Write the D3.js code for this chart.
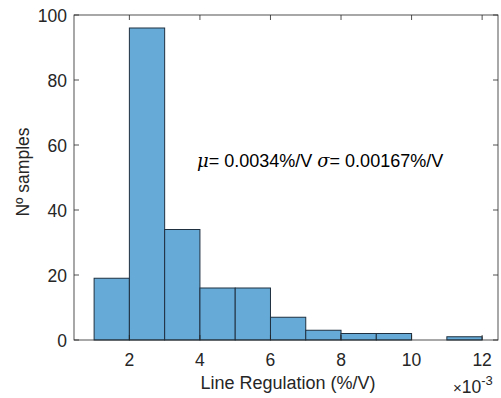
<!DOCTYPE html>
<html>
<head>
<meta charset="utf-8">
<script src="https://cdn.jsdelivr.net/npm/d3@7.9.0/dist/d3.min.js"></script>
<style>
  body { margin: 0; background: #fff; }
  svg { display: block; font-family: "Liberation Sans", Arial, sans-serif; }
</style>
</head>
<body>
<svg id="chart" width="501" height="398"></svg>
<script>
// bin edges in units of 1e-3 %/V
const binStarts = [1, 2, 3, 4, 5, 6, 7, 8, 9, 10, 11];
const binWidth = 1;
const counts = [19, 96, 34, 16, 16, 7, 3, 2, 2, 0, 1];
const xTicks = [2, 4, 6, 8, 10, 12];
const yTicks = [0, 20, 40, 60, 80, 100];

const svg = d3.select('#chart');
const plotLeft = 74, plotRight = 498, plotTop = 15, plotBottom = 340;

const x = d3.scaleLinear().domain([0.43, 12.45]).range([plotLeft, plotRight]);
const y = d3.scaleLinear().domain([0, 100]).range([plotBottom, plotTop]);

const axisColor = '#262626';

// bars
svg.append('g')
  .selectAll('rect')
  .data(binStarts.map((s, i) => ({ s, c: counts[i] })))
  .enter()
  .append('rect')
  .attr('x', d => x(d.s))
  .attr('width', d => x(d.s + binWidth) - x(d.s))
  .attr('y', d => y(d.c))
  .attr('height', d => y(0) - y(d.c))
  .attr('fill', 'rgb(102,170,215)')
  .attr('stroke', '#1f3040')
  .attr('stroke-width', 1);

// box
svg.append('rect')
  .attr('x', plotLeft).attr('y', plotTop)
  .attr('width', plotRight - plotLeft).attr('height', plotBottom - plotTop)
  .attr('fill', 'none').attr('stroke', axisColor).attr('stroke-width', 0.8);

const tickLen = 5;
const g = svg.append('g').attr('stroke', axisColor).attr('stroke-width', 0.8);
xTicks.forEach(t => {
  g.append('line').attr('x1', x(t)).attr('x2', x(t)).attr('y1', plotBottom).attr('y2', plotBottom - tickLen);
  g.append('line').attr('x1', x(t)).attr('x2', x(t)).attr('y1', plotTop).attr('y2', plotTop + tickLen);
});
yTicks.forEach(t => {
  g.append('line').attr('x1', plotLeft).attr('x2', plotLeft + tickLen).attr('y1', y(t)).attr('y2', y(t));
  g.append('line').attr('x1', plotRight).attr('x2', plotRight - tickLen).attr('y1', y(t)).attr('y2', y(t));
});

// tick labels
svg.append('g')
  .selectAll('text')
  .data(xTicks)
  .enter()
  .append('text')
  .attr('x', d => x(d))
  .attr('y', 366)
  .attr('text-anchor', 'middle')
  .attr('font-size', 17.5)
  .attr('fill', axisColor)
  .text(d => d);

svg.append('g')
  .selectAll('text')
  .data(yTicks)
  .enter()
  .append('text')
  .attr('x', 67)
  .attr('y', d => y(d) + 6.5)
  .attr('text-anchor', 'end')
  .attr('font-size', 17.5)
  .attr('fill', axisColor)
  .text(d => d);

// exponent
const ex = svg.append('text')
  .attr('x', 453).attr('y', 393)
  .attr('font-size', 17.5).attr('fill', axisColor);
ex.append('tspan').attr('font-size', 15).attr('font-weight', 300).text('×');
ex.append('tspan').text('10');
ex.append('tspan').attr('dy', -8).attr('font-size', 13).text('-3');

// axis labels
svg.append('text')
  .attr('x', 288).attr('y', 389)
  .attr('text-anchor', 'middle')
  .attr('font-size', 18).attr('fill', axisColor)
  .text('Line Regulation (%/V)');

svg.append('text')
  .attr('transform', 'translate(29,172) rotate(-90)')
  .attr('text-anchor', 'middle')
  .attr('font-size', 17.5).attr('fill', axisColor)
  .text('Nº samples');

// annotation
const ann = svg.append('text')
  .attr('x', 197).attr('y', 167)
  .attr('font-size', 18).attr('fill', '#000');
ann.append('tspan').attr('font-style', 'italic').attr('font-family', '"DejaVu Serif", "Liberation Serif", serif').text('μ');
ann.append('tspan').text('= 0.0034%/V ');
ann.append('tspan').attr('font-style', 'italic').attr('font-family', '"DejaVu Serif", "Liberation Serif", serif').text('σ');
ann.append('tspan').text('= 0.00167%/V');
</script>
</body>
</html>
